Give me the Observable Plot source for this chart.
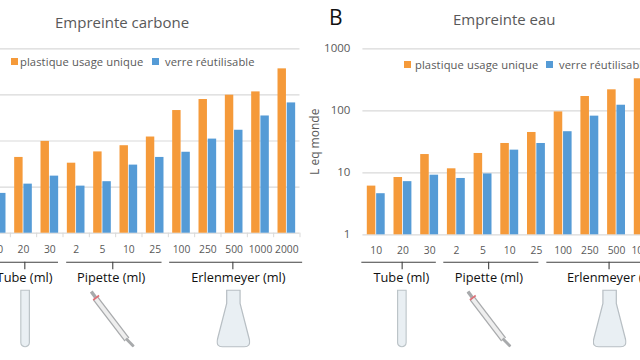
<!DOCTYPE html>
<html><head><meta charset="utf-8">
<script src="https://cdn.jsdelivr.net/npm/d3@7"></script>
<script src="https://cdn.jsdelivr.net/npm/@observablehq/plot@0.6"></script>
<style>
html,body{margin:0;padding:0;background:#fff;width:640px;height:360px;overflow:hidden;position:relative;font-family:"Open Sans",sans-serif}
.t{position:absolute;white-space:nowrap;line-height:1}
.sw{position:absolute;width:7px;height:7px}
svg{max-width:none!important;height:360px!important}
</style></head><body>
<script>
const sizes = ["10","20","30","2","5","10","25","100","250","500","1000","2000"];
const seriesNames = ["plastique usage unique","verre réutilisable"];
const colors = ["#F59A3A","#559BD6"];
const groups = ["Tube (ml)","Pipette (ml)","Erlenmeyer (ml)"];
const carbonPlastic = [30,44,98,33,58,79,122,458,794,985,1162,3673];
const carbonGlass   = [7.3,11.6,17.3,10.5,13.1,30,44,57,110,171,349,670];
const waterPlastic  = [6.1,8.4,19.7,11.6,20.5,29.7,44.7,96,170,218,328,600];
const waterGlass    = [4.6,7.2,9.15,8.1,9.6,23.2,29.7,46,82,123,180,300];
const carbonGrid = [1,10,100,1000,10000];
const waterGrid  = [1,10,100,1000];

const uri = s => "data:image/svg+xml;utf8," + encodeURIComponent(s);
const tubeIcon = uri(`<svg xmlns="http://www.w3.org/2000/svg" viewBox="0 0 10 58"><path d="M.7.7H9.3V53a4.3 4.3 0 0 1-8.6 0Z" fill="#e9eff3" stroke="#bcc4c8" stroke-width="1.2"/></svg>`);
const flaskIcon = uri(`<svg xmlns="http://www.w3.org/2000/svg" viewBox="0 0 33 58"><path d="M10 .7H23V14L32 50Q33.5 57.3 27 57.3H6Q-.5 57.3 1 50L10 14Z" fill="#e9eff3" stroke="#b8bfc4" stroke-width="1.2"/></svg>`);
const pipetteIcon = uri(`<svg xmlns="http://www.w3.org/2000/svg" viewBox="0 0 46 58"><path d="M6 9L38 50" stroke="#a8aaac" stroke-width="6.4"/><path d="M6 9L38 50" stroke="#eeeeee" stroke-width="3.8"/><path d="M37 49L45 57" stroke="#a8aaac" stroke-width="3"/><path d="M1.5 2L6 8" stroke="#a8aaac" stroke-width="3.6"/><path d="M3.5 10.5L9.5 6" stroke="#dd7077" stroke-width="1.6"/></svg>`);

function panel(o){
  const rows = sizes.map((s,i)=>({i,s,a:o.a[i],b:o.b[i]}));
  const svg = Plot.plot({
    width:o.width,height:360,marginTop:o.top,marginBottom:360-o.base,marginLeft:o.ml,marginRight:o.width-o.ml-o.span,
    x:{type:"linear",domain:[-.5,11.5],axis:null},
    y:{type:"log",domain:[1,o.grid[o.grid.length-1]],axis:null},
    style:{position:"absolute",left:o.left+"px",top:"0",fontFamily:"'Open Sans',sans-serif",overflow:"visible",background:"transparent"},
    marks:[
      Plot.ruleY(o.grid,{stroke:"#d9d9d9",strokeWidth:1.2,x1:-.5,x2:o.gridEnd}),
      o.axis?Plot.axisY(o.grid,{tickSize:0,tickPadding:o.axisPad,fontSize:11.5,fill:"#595959",tickFormat:d=>String(d),label:null}):null,
      Plot.rect(rows,{x1:d=>d.i-.335,x2:d=>d.i-.015,y1:1,y2:"a",fill:colors[0]}),
      Plot.rect(rows,{x1:d=>d.i+.015,x2:d=>d.i+.335,y1:1,y2:"b",fill:colors[1]}),
      o.seps?Plot.ruleX(d3.range(-.5,12),{x:d=>d,y1:1,y2:1,insetBottom:-4.5,stroke:"#d9d9d9",strokeWidth:1}):null,
      Plot.text(rows,{x:"i",y:1,text:"s",dy:o.lab,fontSize:10.3,fill:"#595959"}),
      Plot.ruleY(o.br,{y:1,x1:"s",x2:"e",dy:o.brY,stroke:"#404040",strokeWidth:1.1}),
      Plot.ruleX(o.br,{x:"c",y1:1,y2:1,dy:o.brY,insetBottom:-7.5,stroke:"#404040",strokeWidth:1.1}),
      Plot.text(o.br,{x:"t",y:1,text:(d,i)=>groups[i],dy:o.gr,fontSize:12.8,fontWeight:500,fill:"#111"}),
      Plot.image(o.br,{x:"t1",y:1,dy:o.ic,src:(d,i)=>[tubeIcon,pipetteIcon,flaskIcon][i],width:(d,i)=>[10,45,34][i],height:58,preserveAspectRatio:"none"}),
      o.ylabel?Plot.text([o.ylabel],{frameAnchor:"left",textAnchor:"middle",dx:-48,rotate:-90,text:d=>d,fontSize:12,fill:"#595959"}):null
    ]
  });
  document.body.append(svg);
}
panel({left:-40,width:345,ml:23.5,span:316,top:48.3,base:232.7,grid:carbonGrid,a:carbonPlastic,b:carbonGlass,
  gridEnd:11.5,seps:true,axis:false,lab:16.5,brY:29,gr:44.5,ic:85.3,
  br:[{s:-.55,e:2.33,c:1.05,t:1.04,t1:1.06},{s:2.64,e:6.26,c:4.39,t:4.33,t1:4.37},{s:6.55,e:11.6,c:8.95,t:9.16,t1:8.97}]});
panel({left:320,width:364,ml:42.4,span:320.4,top:48.3,base:234.3,grid:waterGrid,a:waterPlastic,b:waterGlass,
  gridEnd:11.5,seps:false,axis:true,axisPad:12.5,lab:15.7,brY:27.4,gr:42.7,ic:83.7,ylabel:"L eq monde",
  br:[{s:-.54,e:2.25,c:.97,t:.94,t1:.96},{s:2.53,e:6.09,c:4.21,t:4.22,t1:4.22},{s:6.39,e:11.6,c:8.72,t:8.91,t1:8.74}]});

function html(cls,text,css){const d=document.createElement("div");d.className=cls;d.textContent=text;d.style.cssText=css;document.body.append(d);}
html("t","Empreinte carbone","left:55px;top:14.5px;font-size:15px;color:#595959");
html("t","Empreinte eau","left:453px;top:12px;font-size:15px;color:#595959");
html("t","B","left:329px;top:7px;font-size:21px;color:#111");
html("sw","","left:11px;top:58px;background:"+colors[0]);
html("t",seriesNames[0],"left:20px;top:55.5px;font-size:11.2px;color:#595959;letter-spacing:.1px");
html("sw","","left:152px;top:58px;background:"+colors[1]);
html("t",seriesNames[1],"left:165px;top:55.5px;font-size:11.2px;color:#595959;letter-spacing:.1px");
html("sw","","left:403.5px;top:61px;background:"+colors[0]);
html("t",seriesNames[0],"left:415px;top:58.5px;font-size:11.2px;color:#595959;letter-spacing:.1px");
html("sw","","left:546px;top:61px;background:"+colors[1]);
html("t",seriesNames[1],"left:559px;top:58.5px;font-size:11.2px;color:#595959;letter-spacing:.1px");
</script>
</body></html>
